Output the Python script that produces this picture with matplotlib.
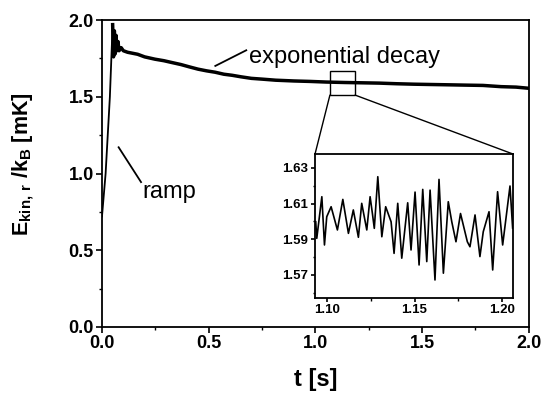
import matplotlib
matplotlib.use("Agg")
import matplotlib.pyplot as plt
import matplotlib.ticker as mticker
from matplotlib.patches import Rectangle, ConnectionPatch

# main trace
T_MAIN = [0.0, 0.017, 0.037, 0.050, 0.054, 0.058, 0.062, 0.066, 0.070, 0.075,
          0.080, 0.09, 0.10, 0.12, 0.167, 0.20, 0.248, 0.29, 0.328, 0.37,
          0.409, 0.45, 0.49, 0.53, 0.571, 0.61, 0.652, 0.70, 0.75, 0.814,
          0.90, 0.976, 1.05, 1.138, 1.22, 1.299, 1.38, 1.461, 1.54, 1.623,
          1.70, 1.785, 1.87, 1.94, 1.995]
E_MAIN = [0.72, 1.0, 1.5, 1.97, 1.76, 1.93, 1.78, 1.90, 1.80, 1.86,
          1.80, 1.82, 1.80, 1.79, 1.777, 1.76, 1.745, 1.735, 1.723, 1.71,
          1.695, 1.68, 1.669, 1.66, 1.647, 1.64, 1.63, 1.62, 1.615, 1.608,
          1.603, 1.600, 1.596, 1.593, 1.591, 1.589, 1.585, 1.582, 1.580, 1.578,
          1.576, 1.574, 1.566, 1.563, 1.556]
N_RAMP = 4  # points belonging to the ramp

# zoomed trace in the inset
T_ZOOM = [1.0935, 1.0941, 1.0970, 1.0985, 1.0998, 1.1023, 1.1059, 1.1090,
          1.1122, 1.1150, 1.1179, 1.1198, 1.1227, 1.1246, 1.1259, 1.1270,
          1.1290, 1.1313, 1.1335, 1.1366, 1.1383, 1.1404, 1.1427, 1.1461,
          1.1480, 1.1503, 1.1526, 1.1547, 1.1570, 1.1589, 1.1617, 1.1640,
          1.1665, 1.1693, 1.1713, 1.1737, 1.1763, 1.1802, 1.1817, 1.1846,
          1.1874, 1.1893, 1.1926, 1.1947, 1.1975, 1.2004, 1.2046, 1.2061]
E_ZOOM = [1.5998, 1.5905, 1.6138, 1.5868, 1.6026, 1.6082, 1.5952, 1.6123,
          1.5933, 1.6064, 1.5911, 1.6101, 1.5952, 1.6138, 1.6045, 1.5961,
          1.6250, 1.5914, 1.6082, 1.5998, 1.5821, 1.6101, 1.5794, 1.6104,
          1.5840, 1.6164, 1.5756, 1.6179, 1.5775, 1.6175, 1.5672, 1.6235,
          1.5710, 1.6110, 1.5998, 1.5886, 1.6044, 1.5886, 1.5858, 1.6036,
          1.5803, 1.5942, 1.6054, 1.5728, 1.6166, 1.5868, 1.6198, 1.5963]

ZOOM_BOX = (1.068, 1.511, 1.186, 1.665)

plt.rcParams.update({
    "font.family": "Liberation Sans",
    "axes.linewidth": 1.3,
    "xtick.major.width": 1.2,
    "ytick.major.width": 1.2,
    "xtick.minor.width": 1.0,
    "ytick.minor.width": 1.0,
})

fig = plt.figure(figsize=(5.41, 3.93), dpi=100)
ax = fig.add_axes([0.1885, 0.168, 0.789, 0.781])
ax.plot(T_MAIN[:N_RAMP], E_MAIN[:N_RAMP], color="black", lw=1.3)
ax.plot(T_MAIN[N_RAMP - 1:], E_MAIN[N_RAMP - 1:], color="black", lw=2.5,
        solid_joinstyle="round")
ax.set_xlim(0, 2.0)
ax.set_ylim(0, 2.0)
ax.xaxis.set_major_locator(mticker.MultipleLocator(0.5))
ax.xaxis.set_minor_locator(mticker.MultipleLocator(0.25))
ax.yaxis.set_major_locator(mticker.MultipleLocator(0.5))
ax.yaxis.set_minor_locator(mticker.MultipleLocator(0.25))
ax.xaxis.set_major_formatter(mticker.FormatStrFormatter("%.1f"))
ax.yaxis.set_major_formatter(mticker.FormatStrFormatter("%.1f"))
ax.tick_params(which="both", direction="out")
ax.tick_params(which="major", length=4, labelsize=13, pad=2)
ax.tick_params(which="minor", length=2.5)
for lab in ax.get_xticklabels() + ax.get_yticklabels():
    lab.set_fontweight("bold")

ax.set_xlabel("t [s]", fontsize=17, fontweight="bold")
ax.set_ylabel(r"E$_{\mathregular{kin,\,r}}$ /k$_\mathregular{B}$ [mK]",
              fontsize=15.5, fontweight="bold")
ax.xaxis.set_label_coords(0.5, -0.135)
ax.yaxis.set_label_coords(-0.155, 0.53)

# annotations
ax.text(0.688, 1.721, "exponential decay", fontsize=17, va="baseline", ha="left")
ax.plot([0.676, 0.531], [1.803, 1.701], color="black", lw=1.3)
ax.text(0.191, 0.84, "ramp", fontsize=17, va="baseline", ha="left")
ax.plot([0.078, 0.183], [1.171, 0.944], color="black", lw=1.3)

# zoom box
x0, y0, x1, y1 = ZOOM_BOX
ax.add_patch(Rectangle((x0, y0), x1 - x0, y1 - y0, fill=False, lw=1.0, color="black"))

# inset
axins = fig.add_axes([0.5823, 0.243, 0.3659, 0.3651])
axins.plot(T_ZOOM, E_ZOOM, color="black", lw=1.2, solid_joinstyle="round")
axins.set_xlim(1.0931, 1.2063)
axins.set_ylim(1.5574, 1.6377)
axins.xaxis.set_major_locator(mticker.FixedLocator([1.10, 1.15, 1.20]))
axins.xaxis.set_minor_locator(mticker.MultipleLocator(0.025))
axins.yaxis.set_major_locator(mticker.FixedLocator([1.57, 1.59, 1.61, 1.63]))
axins.yaxis.set_minor_locator(mticker.MultipleLocator(0.01))
axins.xaxis.set_major_formatter(mticker.FormatStrFormatter("%.2f"))
axins.yaxis.set_major_formatter(mticker.FormatStrFormatter("%.2f"))
axins.tick_params(which="both", direction="out")
axins.tick_params(which="major", length=3, labelsize=9.5, pad=2)
axins.tick_params(which="minor", length=1.8)
for lab in axins.get_xticklabels() + axins.get_yticklabels():
    lab.set_fontweight("bold")

for xa, xb in [(x0, 0.0), (x1, 1.0)]:
    fig.add_artist(ConnectionPatch(xyA=(xa, y0), coordsA=ax.transData,
                                   xyB=(xb, 1.0), coordsB=axins.transAxes,
                                   color="black", lw=1.0))

fig.savefig("out.png", dpi=100)
